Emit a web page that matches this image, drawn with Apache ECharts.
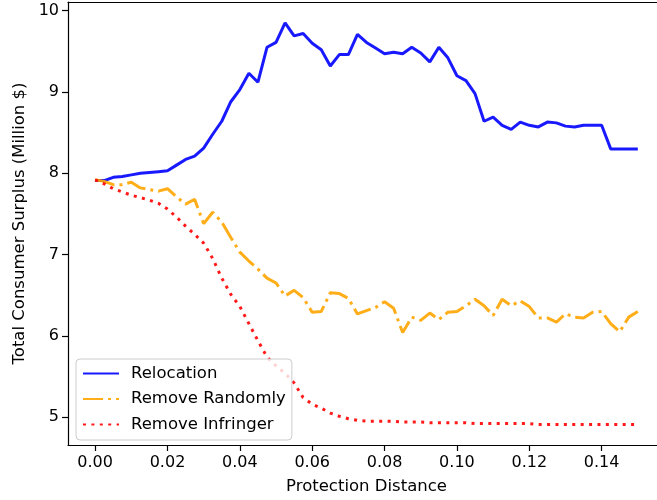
<!DOCTYPE html>
<html>
<head>
<meta charset="utf-8">
<script src="https://cdn.jsdelivr.net/npm/echarts@6/dist/echarts.min.js"></script>
<style>html,body{margin:0;padding:0;background:#fff}#c{width:657px;height:500px}</style>
</head>
<body>
<div id="c"></div>
<script>
const distances = [0, 0.0025, 0.005, 0.0075, 0.01, 0.0125, 0.015, 0.0175, 0.02, 0.0225,
  0.025, 0.0275, 0.03, 0.0325, 0.035, 0.0375, 0.04, 0.0425, 0.045, 0.0475,
  0.05, 0.0525, 0.055, 0.0575, 0.06, 0.0625, 0.065, 0.0675, 0.07, 0.0725,
  0.075, 0.0775, 0.08, 0.0825, 0.085, 0.0875, 0.09, 0.0925, 0.095, 0.0975,
  0.1, 0.1025, 0.105, 0.1075, 0.11, 0.1125, 0.115, 0.1175, 0.12, 0.1225,
  0.125, 0.1275, 0.13, 0.1325, 0.135, 0.1375, 0.14, 0.1425, 0.145, 0.1475, 0.15];

const relocation = [7.91, 7.91, 7.95, 7.96, 7.98, 8.00, 8.01, 8.02, 8.03, 8.10,
  8.17, 8.21, 8.31, 8.48, 8.64, 8.88, 9.03, 9.23, 9.12, 9.55,
  9.61, 9.85, 9.69, 9.72, 9.60, 9.52, 9.32, 9.46, 9.46, 9.71,
  9.61, 9.54, 9.47, 9.49, 9.47, 9.55, 9.48, 9.37, 9.55, 9.42,
  9.20, 9.14, 8.98, 8.64, 8.69, 8.59, 8.54, 8.63, 8.59, 8.57,
  8.63, 8.62, 8.58, 8.57, 8.59, 8.59, 8.59, 8.30, 8.30, 8.30, 8.30];

const removeRandomly = [7.92, 7.90, 7.86, 7.86, 7.89, 7.82, 7.80, 7.78, 7.81, 7.71,
  7.62, 7.68, 7.38, 7.52, 7.40, 7.21, 7.03, 6.92, 6.82, 6.71,
  6.65, 6.49, 6.56, 6.47, 6.29, 6.30, 6.53, 6.52, 6.46, 6.27,
  6.31, 6.35, 6.42, 6.34, 6.04, 6.23, 6.19, 6.28, 6.20, 6.29,
  6.30, 6.37, 6.45, 6.37, 6.25, 6.45, 6.37, 6.43, 6.36, 6.22,
  6.22, 6.17, 6.27, 6.23, 6.22, 6.29, 6.30, 6.15, 6.05, 6.23, 6.30];

const removeInfringer = [7.92, 7.87, 7.81, 7.77, 7.73, 7.70, 7.67, 7.63, 7.56, 7.46,
  7.35, 7.25, 7.14, 6.95, 6.71, 6.51, 6.36, 6.15, 5.94, 5.74,
  5.63, 5.54, 5.42, 5.24, 5.16, 5.11, 5.05, 5.01, 4.98, 4.96,
  4.95, 4.95, 4.95, 4.95, 4.94, 4.94, 4.94, 4.93, 4.93, 4.93,
  4.93, 4.93, 4.92, 4.92, 4.92, 4.92, 4.92, 4.92, 4.92, 4.91,
  4.91, 4.91, 4.91, 4.91, 4.91, 4.91, 4.91, 4.91, 4.91, 4.91, 4.91];

const seriesNames = ['Relocation', 'Remove Randomly', 'Remove Infringer'];
const xTicks = [0, 0.02, 0.04, 0.06, 0.08, 0.10, 0.12, 0.14];
const yTicks = [5, 6, 7, 8, 9, 10];

const FONT = 'DejaVu Sans';
const pairs = ys => distances.map((x, i) => [x, ys[i]]);

const chart = echarts.init(document.getElementById('c'), null, {renderer: 'canvas'});
const lineSt = {color: '#000', width: 1.2};
chart.setOption({
  animation: false,
  backgroundColor: '#fff',
  grid: {left: 68, right: 0, top: 2, bottom: 54, show: false},
  xAxis: [{
    type: 'value', min: -0.0075, max: 0.1553, position: 'bottom',
    splitLine: {show: false},
    axisLine: {show: true, onZero: false, lineStyle: lineSt},
    axisTick: {show: true, inside: false, length: 6, lineStyle: lineSt, customValues: xTicks},
    axisLabel: {color: '#000', fontFamily: FONT, fontSize: 16, customValues: xTicks, margin: 10,
      formatter: v => v.toFixed(2)},
    name: 'Protection Distance', nameLocation: 'middle', nameGap: 33,
    nameTextStyle: {color: '#000', fontFamily: FONT, fontSize: 16.5, padding: [0, 0, 0, 8]}
  }, {
    type: 'value', min: -0.0075, max: 0.1553, position: 'top',
    splitLine: {show: false},
    axisLine: {show: true, onZero: false, lineStyle: lineSt},
    axisTick: {show: false}, axisLabel: {show: false}
  }],
  yAxis: {
    type: 'value', min: 4.657, max: 10.107,
    splitLine: {show: false},
    axisLine: {show: true, onZero: false, lineStyle: lineSt},
    axisTick: {show: true, inside: false, length: 6, lineStyle: lineSt, customValues: yTicks},
    axisLabel: {color: '#000', fontFamily: FONT, fontSize: 16, customValues: yTicks, margin: 9,
      formatter: v => String(v)},
    name: 'Total Consumer Surplus (Million $)', nameLocation: 'middle', nameGap: 40,
    nameTextStyle: {color: '#000', fontFamily: FONT, fontSize: 16.5}
  },
  legend: {
    orient: 'vertical', left: 76, top: 359,
    padding: [6, 6, 7, 6],
    itemWidth: 36, itemHeight: 16, itemGap: 8.5,
    backgroundColor: 'rgba(255,255,255,0.8)', borderColor: '#cccccc', borderWidth: 1, borderRadius: 4,
    itemStyle: {color: 'rgba(0,0,0,0)', borderWidth: 0, opacity: 0},
    textStyle: {fontFamily: FONT, fontSize: 16.5, color: '#000', padding: [0, 0, 0, 7], lineHeight: 16},
    data: seriesNames
  },
  series: [
    {name: seriesNames[0], type: 'line', xAxisIndex: 0, data: pairs(relocation), showSymbol: false, symbol: 'none',
     lineStyle: {color: 'rgba(0,0,255,0.9)', width: 3}, itemStyle: {color: 'rgba(0,0,255,0.9)'}},
    {name: seriesNames[1], type: 'line', xAxisIndex: 0, data: pairs(removeRandomly), showSymbol: false, symbol: 'none',
     lineStyle: {color: 'rgba(255,165,0,0.9)', width: 3, type: [20, 5, 3, 5]}, itemStyle: {color: 'rgba(255,165,0,0.9)'}},
    {name: seriesNames[2], type: 'line', xAxisIndex: 0, data: pairs(removeInfringer), showSymbol: false, symbol: 'none',
     lineStyle: {color: 'rgba(255,0,0,0.9)', width: 3, type: [3, 5.4]}, itemStyle: {color: 'rgba(255,0,0,0.9)'}}
  ]
});
</script>
</body>
</html>
